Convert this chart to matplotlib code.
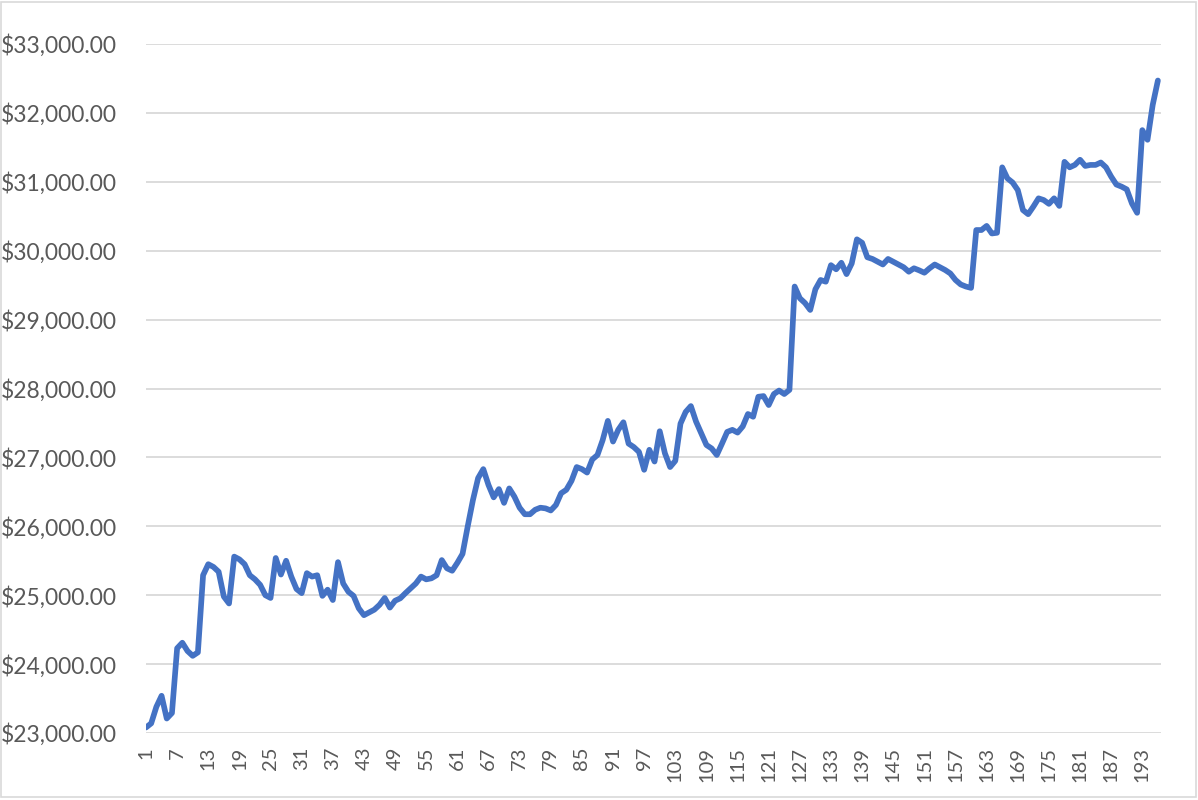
import matplotlib
matplotlib.use("Agg")
import matplotlib.pyplot as plt
from matplotlib.patches import Rectangle
from matplotlib.ticker import FuncFormatter

# values, one per period (1..196)
balance = [
    23080, 23140, 23380, 23540, 23210, 23290, 24230, 24310, 24190, 24120,
    24170, 25290, 25450, 25410, 25340, 24980, 24880, 25560, 25520, 25450,
    25290, 25230, 25150, 25000, 24960, 25540, 25300, 25500, 25270, 25090,
    25030, 25320, 25270, 25290, 24990, 25080, 24930, 25480, 25170, 25050,
    24990, 24810, 24710, 24750, 24790, 24860, 24960, 24820, 24920, 24955,
    25030, 25100, 25170, 25270, 25230, 25245, 25290, 25510, 25390, 25355,
    25470, 25600, 26000, 26380, 26700, 26830, 26600, 26420, 26540, 26340,
    26550, 26430, 26270, 26175, 26175, 26240, 26270, 26260, 26230, 26310,
    26480, 26530, 26660, 26860, 26830, 26780, 26970, 27035, 27250, 27530,
    27230, 27400, 27510, 27200, 27150, 27080, 26820, 27110, 26940, 27380,
    27060, 26860, 26950, 27490, 27660, 27745, 27520, 27350, 27180, 27130,
    27035, 27200, 27370, 27400, 27360, 27450, 27630, 27590, 27880, 27890,
    27760, 27920, 27970, 27920, 27980, 29480, 29310, 29240, 29140, 29440,
    29575, 29550, 29790, 29730, 29825, 29660, 29815, 30165, 30115, 29905,
    29880, 29840, 29800, 29880, 29840, 29800, 29760, 29695, 29745, 29715,
    29680, 29745, 29800, 29760, 29720, 29670, 29575, 29510, 29480, 29460,
    30300, 30300, 30360, 30250, 30260, 31210, 31050, 30990, 30880, 30590,
    30530, 30640, 30760, 30735, 30680, 30760, 30650, 31290, 31210, 31245,
    31320, 31230, 31245, 31245, 31280, 31210, 31075, 30960, 30930, 30890,
    30685, 30550, 31750, 31610, 32115, 32470,
]
periods = list(range(1, len(balance) + 1))
x_ticks = list(range(1, len(balance) + 1, 6))
y_ticks = list(range(23000, 33001, 1000))

plt.rcParams['font.family'] = ['Lato', 'DejaVu Sans']

fig = plt.figure(figsize=(11.98, 8), dpi=100)
ax = fig.add_axes([146 / 1198, 1 - 733 / 800, (1161 - 146) / 1198, (733 - 44) / 800])

ax.plot(periods, balance, color='#4472C4', linewidth=4.1,
        solid_joinstyle='round', solid_capstyle='round', zorder=3)

ax.set_xlim(1, 196.6)
ax.set_ylim(23000, 33000)
ax.set_xticks(x_ticks)
ax.set_xticklabels([str(t) for t in x_ticks], rotation=90)
ax.set_yticks(y_ticks)
ax.yaxis.set_major_formatter(FuncFormatter(lambda v, p: '${:,.2f}'.format(v)))

ax.grid(axis='y', color='#D9D9D9', linewidth=1.3, zorder=0)
for s in ax.spines.values():
    s.set_visible(False)
ax.tick_params(axis='both', length=0, colors='#595959')
ax.tick_params(axis='y', labelsize=16.5, pad=21)
ax.tick_params(axis='x', labelsize=14.5, pad=10)

# chart area border
fig.patches.append(Rectangle((0.001, 0.004), 0.997, 0.994, transform=fig.transFigure,
                             fill=False, edgecolor='#D9D9D9', linewidth=1.2))

fig.savefig('out.png', dpi=100)
